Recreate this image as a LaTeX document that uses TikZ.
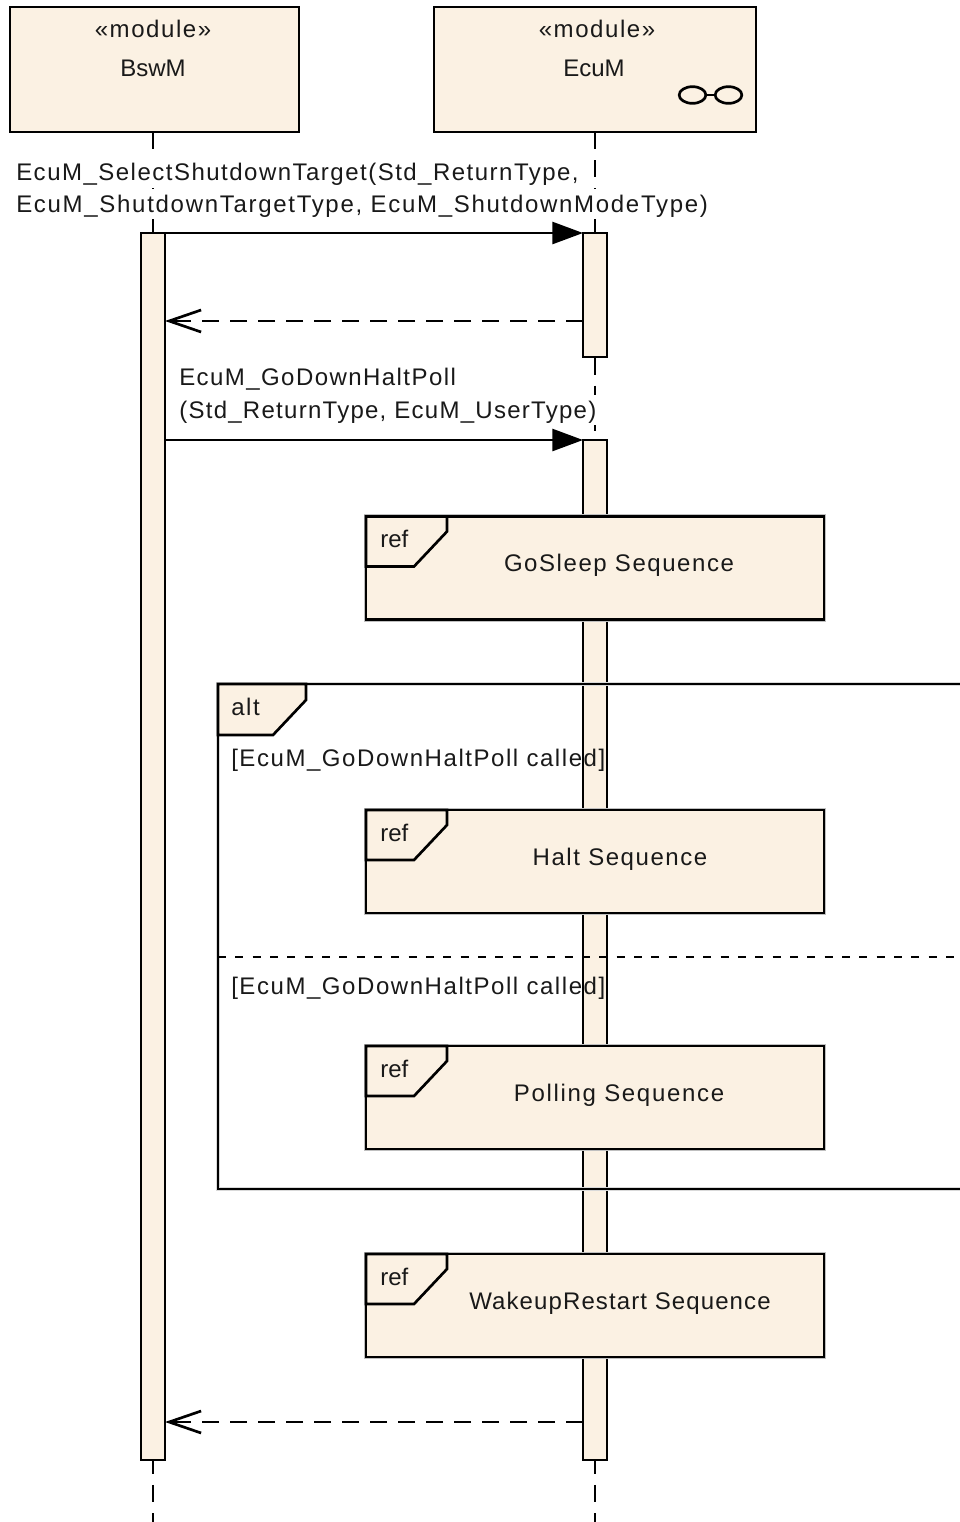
\documentclass[tikz,border=0pt]{standalone}
\usepackage{fontspec}
\setmainfont{Liberation Sans}
\newfontfamily\spaced[LetterSpace=6.5]{Liberation Sans}
\usetikzlibrary{arrows.meta,shapes.geometric}

\definecolor{cream}{RGB}{251,241,227}
\tikzset{
	modulebox/.style={draw=black, fill=cream, line width=2pt, rectangle, minimum width=#1, minimum height=93.75pt, inner sep=0pt, outer sep=0pt},
	activation/.style={draw=black, fill=cream, line width=2pt, rectangle, minimum width=18pt, minimum height=#1, inner sep=0pt, outer sep=0pt},
	refbox/.style={draw=black, fill=cream, line width=2pt, rectangle, minimum width=343.5pt, minimum height=77.25pt, inner sep=0pt, outer sep=0pt, preaction={draw=black!25, line width=3.5pt}},
	frameline/.style={draw=black, line width=2pt, preaction={draw=black!15, line width=3.5pt}},
	tabline/.style={draw=black, fill=cream, line width=2pt, line join=miter},
	lifeline/.style={draw=black, line width=2pt, dash pattern=on 12.8pt off 8.34pt},
	call/.style={draw=black, line width=2pt, -{Triangle[length=23pt,width=16.5pt]}},
	reply/.style={draw=black, line width=2pt, dash pattern=on 13pt off 8pt, -{Straight Barb[length=24pt,width=16.5pt,line width=2pt]}},
	txt/.style={font=\fontsize{18}{18}\selectfont, text=black!90, inner sep=0pt},
	wide/.style={txt, font=\fontsize{18}{18}\spaced},
	lbl/.style={wide, anchor=base west},
	msg/.style={lbl, fill=white, text height=17.25pt, text depth=5.25pt},
	glass/.style={draw=black, line width=2pt, ellipse, minimum width=20pt, minimum height=12.5pt, inner sep=0pt}
}

\begin{document}
\begin{tikzpicture}[x=0.75pt, y=-0.75pt]
	\useasboundingbox (0,0) rectangle (960,1522);

	% modules
	\node[modulebox=216.75pt] (bswm) at (154.5,69.5) {};
	\node[modulebox=241.5pt] (ecum) at (595,69.5) {};
	\node[wide] (bswmtype) at (153,29) {«module»};
	\node[txt] (bswmname) at (153,68) {BswM};
	\node[wide] (ecumtype) at (597,29) {«module»};
	\node[txt] (ecumname) at (594,68) {EcuM};
	\node[glass] (glassa) at (692.5,95) {};
	\node[glass] (glassb) at (728.5,95) {};
	\draw[line width=2pt] (glassa) -- (glassb);

	% lifelines
	\coordinate (bswmtop) at (153,132);
	\coordinate (bswmend) at (153,1522);
	\coordinate (ecumtop) at (595,132);
	\coordinate (ecumend) at (595,1522);
	\draw[lifeline] (bswmtop) -- (bswmend);
	\draw[lifeline] (ecumtop) -- (ecumend);

	% activations
	\node[activation=920.25pt] (bswmbar) at (153,846.5) {};
	\node[activation=93pt] (ecumbara) at (595,295) {};
	\node[activation=765pt] (ecumbarb) at (595,950) {};

	% messages
	\coordinate (selectfrom) at (165,233);
	\coordinate (selectto) at (583,233);
	\coordinate (selectbackfrom) at (583,321);
	\coordinate (selectbackto) at (165,321);
	\coordinate (haltfrom) at (165,440);
	\coordinate (haltto) at (583,440);
	\coordinate (haltbackfrom) at (583,1422);
	\coordinate (haltbackto) at (165,1422);
	\draw[call] (selectfrom) -- (selectto);
	\draw[reply] (selectbackfrom) -- (selectbackto);
	\draw[call] (haltfrom) -- (haltto);
	\draw[reply] (haltbackfrom) -- (haltbackto);
	\node[msg] (selectlinea) at (16,180) {\addfontfeature{LetterSpace=6.2}EcuM\_SelectShutdownTarget(Std\_ReturnType,};
	\node[msg] (selectlineb) at (16,212) {\addfontfeature{LetterSpace=7.1}EcuM\_ShutdownTargetType, EcuM\_ShutdownModeType)};
	\node[msg] (haltlinea) at (179,385) {\addfontfeature{LetterSpace=6}EcuM\_GoDownHaltPoll};
	\node[msg] (haltlineb) at (179,418) {\addfontfeature{LetterSpace=5.3}(Std\_ReturnType, EcuM\_UserType)};

	% alt frame
	\coordinate (altne) at (960,684);
	\coordinate (altnw) at (218,684);
	\coordinate (altsw) at (218,1189);
	\coordinate (altse) at (960,1189);
	\coordinate (splitw) at (218,957);
	\coordinate (splite) at (960,957);
	\draw[frameline] (altne) -- (altnw) -- (altsw) -- (altse);
	\draw[line width=2pt, dash pattern=on 6pt off 7pt] (splitw) -- (splite);
	\draw[tabline] (altnw) -- ++(88,0) -- ++(0,16) -- ++(-33,35) -- ++(-55,0) -- cycle;
	\node[lbl] (altlabel) at (231,715) {alt};
	\node[lbl] (guarda) at (231,766) {[EcuM\_GoDownHaltPoll called]};
	\node[lbl] (guardb) at (231,994) {[EcuM\_GoDownHaltPoll called]};

	% refs
	\node[refbox] (gosleep) at (595,568) {};
	\node[refbox] (halt) at (595,861.5) {};
	\node[refbox] (polling) at (595,1097.5) {};
	\node[refbox] (wakeup) at (595,1305.5) {};
	\draw[tabline] (gosleep.north west) -- ++(81,0) -- ++(0,15) -- ++(-33,35) -- ++(-48,0) -- cycle;
	\draw[tabline] (halt.north west) -- ++(81,0) -- ++(0,15) -- ++(-33,35) -- ++(-48,0) -- cycle;
	\draw[tabline] (polling.north west) -- ++(81,0) -- ++(0,15) -- ++(-33,35) -- ++(-48,0) -- cycle;
	\draw[tabline] (wakeup.north west) -- ++(81,0) -- ++(0,15) -- ++(-33,35) -- ++(-48,0) -- cycle;
	\node[txt, anchor=base west] (gosleepref) at (380,547) {ref};
	\node[txt, anchor=base west] (haltref) at (380,841) {ref};
	\node[txt, anchor=base west] (pollingref) at (380,1077) {ref};
	\node[txt, anchor=base west] (wakeupref) at (380,1285) {ref};
	\node[wide] (gosleeplabel) at (619,565) {GoSleep Sequence};
	\node[wide] (haltlabel) at (620,859) {Halt Sequence};
	\node[wide] (pollinglabel) at (619,1095) {\addfontfeature{LetterSpace=7}Polling Sequence};
	\node[wide] (wakeuplabel) at (620,1303) {\addfontfeature{LetterSpace=4.6}WakeupRestart Sequence};
\end{tikzpicture}
\end{document}
